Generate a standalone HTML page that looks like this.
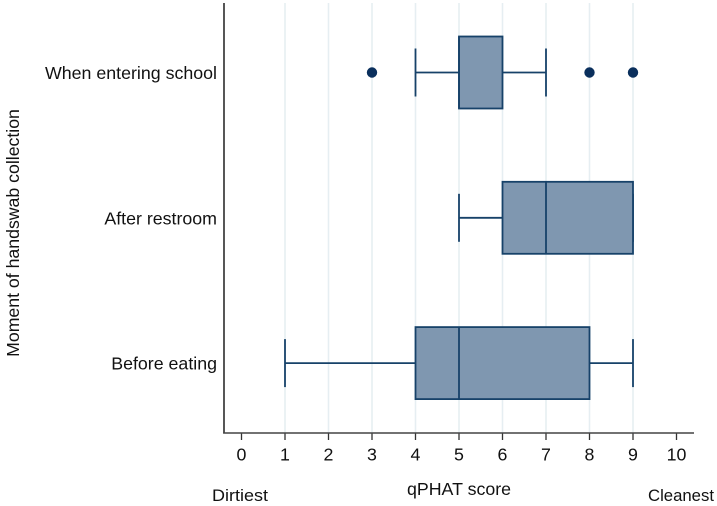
<!DOCTYPE html>
<html lang="en">
<head>
<meta charset="utf-8">
<title>qPHAT score by moment of handswab collection</title>
<style>
html,body{margin:0;padding:0;background:#fff;width:717px;height:506px;overflow:hidden}
svg{display:block;font-family:"Liberation Sans",sans-serif}
</style>
</head>
<body>
<svg id="chart" width="717" height="506" viewBox="0 0 717 506" xmlns="http://www.w3.org/2000/svg">
<rect width="717" height="506" fill="#ffffff"/>
<g id="grid"></g>
<g id="axes"></g>
<g id="marks"></g>
<text x="0" y="0" transform="translate(19 233) rotate(-90)" text-anchor="middle" font-size="17.7" fill="#111">Moment of handswab collection</text>
<text x="459" y="495" text-anchor="middle" font-size="17.8" fill="#111">qPHAT score</text>
<text x="212" y="501" font-size="17" fill="#111" textLength="56" lengthAdjust="spacingAndGlyphs">Dirtiest</text>
<text x="648" y="501" font-size="17" fill="#111" textLength="66" lengthAdjust="spacingAndGlyphs">Cleanest</text>
</svg>
<script>
const categories = ["When entering school", "After restroom", "Before eating"];
const whiskerLow = [4, 5, 1];
const quartile1 = [5, 6, 4];
const medians = [5, 7, 5];
const quartile3 = [6, 9, 8];
const whiskerHigh = [7, 9, 9];
const outliers = [[3, 8, 9], [], []];
const xTicks = [0, 1, 2, 3, 4, 5, 6, 7, 8, 9, 10];

const NS = "http://www.w3.org/2000/svg";
const INK = "#174269";
const xScale = v => 241.5 + v * 43.5;
const yScale = i => 72.5 + i * 145.3;
const BOX_HALF = 36;
const CAP_HALF = 24;

function make(tag, attrs, parent) {
  const el = document.createElementNS(NS, tag);
  for (const k in attrs) el.setAttribute(k, attrs[k]);
  parent.appendChild(el);
  return el;
}

const grid = document.getElementById("grid");
const axes = document.getElementById("axes");
const marks = document.getElementById("marks");

xTicks.forEach(t => {
  if (t > 0 && t < 10) {
    const g = make("line", {x1: xScale(t), x2: xScale(t), y1: 3, y2: 433, stroke: "#e6eef2", "stroke-width": 1.6}, grid);
    
    
  }
  const tick = make("line", {x1: xScale(t), x2: xScale(t), y1: 433, y2: 440, stroke: "#333", "stroke-width": 1.3}, axes);
  
  
  const label = make("text", {x: xScale(t), y: 460.5, "text-anchor": "middle", "font-size": 17.8, fill: "#111"}, axes);
  
  
  label.textContent = t;
});

const yAxis = make("line", {x1: 224, x2: 224, y1: 3, y2: 433.5, stroke: "#444", "stroke-width": 1.8}, axes);


const xAxis = make("line", {x1: 223.2, x2: 694, y1: 433, y2: 433, stroke: "#444", "stroke-width": 1.6}, axes);



categories.forEach((name, i) => {
  const cy = yScale(i);
  const label = make("text", {x: 217, y: cy + 6.5, "text-anchor": "end", "font-size": 17.8, fill: "#111"}, axes);
  
  
  label.textContent = name;

  const line = {stroke: INK, "stroke-width": 1.8};
  const wl = make("line", {x1: xScale(whiskerLow[i]), x2: xScale(quartile1[i]), y1: cy, y2: cy, ...line}, marks);
  
  
  const wh = make("line", {x1: xScale(quartile3[i]), x2: xScale(whiskerHigh[i]), y1: cy, y2: cy, ...line}, marks);
  
  
  const cl = make("line", {x1: xScale(whiskerLow[i]), x2: xScale(whiskerLow[i]), y1: cy - CAP_HALF, y2: cy + CAP_HALF, ...line}, marks);
  
  
  const ch = make("line", {x1: xScale(whiskerHigh[i]), x2: xScale(whiskerHigh[i]), y1: cy - CAP_HALF, y2: cy + CAP_HALF, ...line}, marks);
  
  
  const box = make("rect", {x: xScale(quartile1[i]), y: cy - BOX_HALF, width: xScale(quartile3[i]) - xScale(quartile1[i]), height: BOX_HALF * 2, fill: "#7f97b0", ...line}, marks);
  
  
  const med = make("line", {x1: xScale(medians[i]), x2: xScale(medians[i]), y1: cy - BOX_HALF, y2: cy + BOX_HALF, ...line}, marks);
  
  
  outliers[i].forEach(v => {
    const dot = make("circle", {cx: xScale(v), cy: cy, r: 5.2, fill: "#0a2f5c"}, marks);
    
    
  });
});
</script>
</body>
</html>
